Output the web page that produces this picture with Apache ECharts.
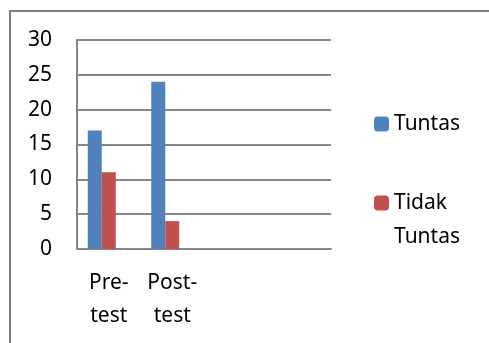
<!DOCTYPE html>
<html>
<head>
<meta charset="utf-8">
<script src="https://cdn.jsdelivr.net/npm/echarts@6/dist/echarts.min.js"></script>
<style>
  html, body { margin: 0; padding: 0; background: #fff; }
  #chart { width: 489px; height: 343px; }
</style>
</head>
<body>
<div id="chart"></div>
<script>
// data
const categories = ['Pre-test', 'Post-test', '', '']
const tuntas = [17, 24, null, null]
const tidakTuntas = [11, 4, null, null]
const yTicks = [0, 5, 10, 15, 20, 25, 30]

const font = '"Noto Sans", "Open Sans", sans-serif'
const gray = '#868686'

const chart = echarts.init(document.getElementById('chart'))

// legend text: 'Tidak Tuntas' wraps, icon stays on the first line
function legendText(name) {
  return name === 'Tidak Tuntas' ? '\nTidak\nTuntas' : name
}

chart.setOption({
  animation: false,
  textStyle: { fontFamily: font },
  graphic: [
    {
      // chart frame: only the top and left edges show in the original
      type: 'polyline',
      z: 100,
      shape: { points: [[10, 343], [10, 11], [489, 11]] },
      style: { fill: null, stroke: '#7f7f7f', lineWidth: 2 },
      silent: true
    }
  ],
  grid: { left: 77, right: 158, top: 40, bottom: 94 },
  legend: [
    {
      data: ['Tuntas'],
      orient: 'vertical',
      left: 374,
      top: 107,
      padding: 0,
      itemWidth: 15,
      itemHeight: 15,
      textStyle: { fontSize: 21, color: '#000', lineHeight: 34 }
    },
    {
      data: ['Tidak Tuntas'],
      orient: 'vertical',
      left: 374,
      top: 152,
      padding: 0,
      itemWidth: 15,
      itemHeight: 15,
      formatter: legendText,
      textStyle: { fontSize: 21, color: '#000', lineHeight: 34 }
    }
  ],
  xAxis: {
    type: 'category',
    data: categories,
    axisLine: { lineStyle: { color: gray, width: 2 } },
    axisTick: { show: false },
    axisLabel: {
      color: '#000',
      fontSize: 21,
      lineHeight: 33,
      margin: 18,
      interval: 0,
      formatter: v => v.replace('-', '-\n')
    }
  },
  yAxis: {
    type: 'value',
    min: yTicks[0],
    max: yTicks[yTicks.length - 1],
    interval: 5,
    axisLine: { show: true, lineStyle: { color: gray, width: 2 } },
    axisTick: { show: false },
    axisLabel: { color: '#000', fontSize: 21, margin: 25 },
    splitLine: { lineStyle: { color: gray, width: 2 } }
  },
  series: [
    {
      name: 'Tuntas',
      type: 'bar',
      data: tuntas,
      barWidth: 14,
      barGap: '0%',
      itemStyle: { color: '#4F81BD' }
    },
    {
      name: 'Tidak Tuntas',
      type: 'bar',
      data: tidakTuntas,
      barWidth: 14,
      barGap: '0%',
      itemStyle: { color: '#C0504D' }
    },
    {
      // empty third series, keeps the bar pairs off-centre like the original
      name: 'kosong',
      type: 'bar',
      data: [null, null, null, null],
      barWidth: 14,
      barGap: '0%'
    }
  ]
})
</script>
</body>
</html>
